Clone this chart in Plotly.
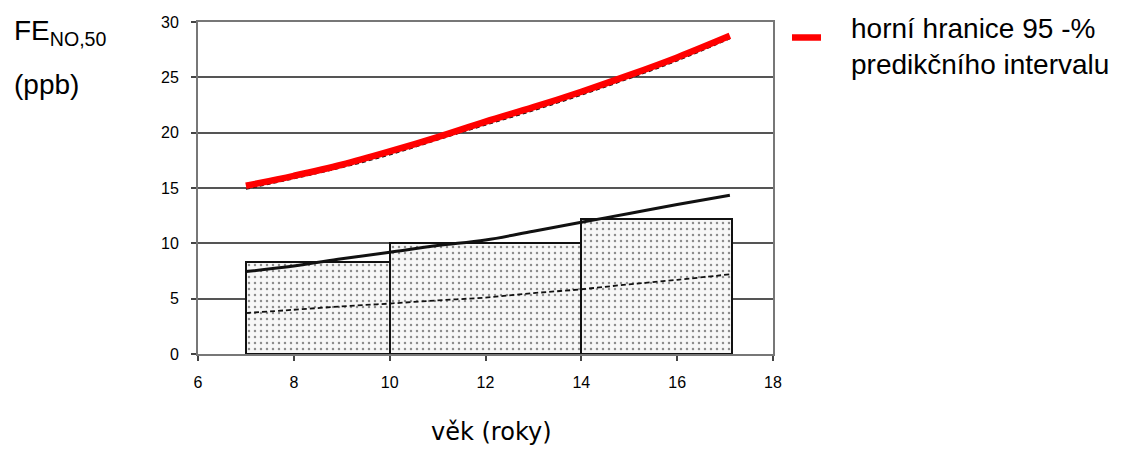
import plotly.graph_objects as go

# ---- data ----
bin_edges = [7, 10, 14, 17.15]
bar_heights = [8.35, 10.0, 12.2]

age = [7, 8, 9, 10, 11, 12, 13, 14, 15, 16, 17.1]
mean_line = [7.45, 7.95, 8.6, 9.2, 9.8, 10.3, 11.1, 11.9, 12.7, 13.5, 14.35]
median_line = [3.7, 4.0, 4.3, 4.56, 4.85, 5.1, 5.5, 5.85, 6.3, 6.7, 7.2]
upper_black = [14.9, 15.85, 16.85, 18.0, 19.35, 20.7, 22.0, 23.4, 24.9, 26.5, 28.5]
upper_red = [15.2, 16.1, 17.1, 18.3, 19.6, 21.0, 22.3, 23.7, 25.2, 26.8, 28.75]

x_ticks = [6, 8, 10, 12, 14, 16, 18]
y_ticks = [0, 5, 10, 15, 20, 25, 30]

legend_label = "horní hranice 95 -%<br>predikčního intervalu"
y_title = "FE<sub>NO,50</sub>"
y_unit = "(ppb)"
x_title = "věk (roky)"

centers = [(a + b) / 2 for a, b in zip(bin_edges[:-1], bin_edges[1:])]
widths = [b - a for a, b in zip(bin_edges[:-1], bin_edges[1:])]

W, H = 1121, 450
L, R, T, B = 198, 348, 22, 96
pw = W - L - R
ph = H - T - B


def px_x(v):
    return (v - L) / pw


def px_y(v):
    return 1 - (v - T) / ph


fig = go.Figure()
fig.add_trace(go.Bar(
    x=centers, y=bar_heights, width=widths,
    marker=dict(color="white",
                line=dict(color="#111", width=2),
                pattern=dict(shape=".", fgcolor="#222", bgcolor="#f7f7f7", size=6, solidity=0.13)),
    showlegend=False, hoverinfo="skip"))
fig.add_trace(go.Scatter(x=age, y=median_line, mode="lines", line_shape="spline",
                         line=dict(color="#111", width=1.8, dash="5px,3px"), showlegend=False))
fig.add_trace(go.Scatter(x=age, y=mean_line, mode="lines", line_shape="spline",
                         line=dict(color="#111", width=3), showlegend=False))
fig.add_trace(go.Scatter(x=age, y=upper_black, mode="lines", line_shape="spline",
                         line=dict(color="#111", width=1.5, dash="4px,3px"), showlegend=False))
fig.add_trace(go.Scatter(x=age, y=upper_red, mode="lines", line_shape="spline",
                         line=dict(color="#ff0000", width=6.5), showlegend=False))

tickfont = dict(family="Liberation Sans, Arial", size=16, color="black")
fig.update_layout(
    width=W, height=H,
    margin=dict(l=L, r=R, t=T, b=B),
    paper_bgcolor="white", plot_bgcolor="white",
    bargap=0,
    xaxis=dict(range=[6, 18], tickvals=x_ticks, showgrid=False, zeroline=False,
               showline=True, linecolor="#777", linewidth=2, mirror=True,
               ticks="outside", ticklen=5, tickwidth=1.5, tickcolor="#444",
               ticklabelstandoff=8, tickfont=tickfont),
    yaxis=dict(range=[0, 30], tickvals=y_ticks, showgrid=True, gridcolor="#555", gridwidth=1.5,
               zeroline=False, showline=True, linecolor="#777", linewidth=2, mirror=True,
               ticks="outside", ticklen=5, tickwidth=1.5, tickcolor="#444",
               ticklabelstandoff=9, tickfont=tickfont),
    annotations=[
        dict(text=y_title, x=px_x(11.5), y=px_y(13.5), xref="paper", yref="paper", showarrow=False,
             xanchor="left", yanchor="top",
             font=dict(family="Liberation Sans, Arial", size=28, color="black")),
        dict(text=y_unit, x=px_x(11.5), y=px_y(66.5), xref="paper", yref="paper", showarrow=False,
             xanchor="left", yanchor="top",
             font=dict(family="Liberation Sans, Arial", size=28, color="black")),
        dict(text=x_title, x=px_x(491), y=px_y(416.5), xref="paper", yref="paper", showarrow=False,
             xanchor="center", yanchor="top",
             font=dict(family="DejaVu Sans", size=24, color="black")),
        dict(text=legend_label, x=px_x(849), y=px_y(11.4), xref="paper", yref="paper", showarrow=False,
             xanchor="left", yanchor="top", align="left",
             font=dict(family="Liberation Sans, Arial", size=28, color="black")),
    ],
)

fig.add_shape(type="line", xref="paper", yref="paper",
              x0=px_x(792), x1=px_x(821), y0=px_y(37.5), y1=px_y(37.5),
              line=dict(color="#ff0000", width=6.5))

fig.write_html("out.html")
